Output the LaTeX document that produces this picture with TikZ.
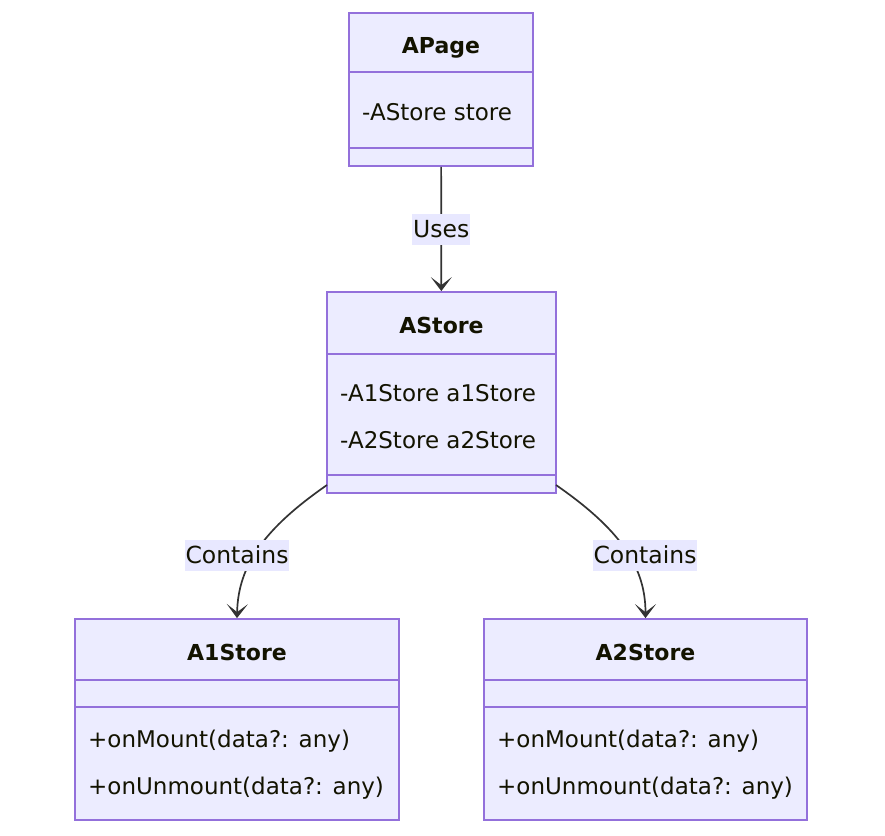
\documentclass[tikz,border=0pt]{standalone}
\usepackage{fontspec}
\setmainfont{DejaVu Sans}
\usetikzlibrary{arrows.meta}
\definecolor{boxfill}{HTML}{ECECFF}
\definecolor{boxline}{HTML}{9370DB}
\definecolor{edgeline}{HTML}{333333}
\definecolor{txt}{HTML}{131300}
\definecolor{labelfill}{HTML}{E8E8FF}
\tikzset{
  classbox/.style={draw=boxline, fill=boxfill, line width=1.8pt, inner sep=0pt},
  sepline/.style={draw=boxline, line width=1.8pt},
  head/.style={text=txt, anchor=base, inner sep=0pt, font=\fontsize{22}{26}\selectfont\bfseries},
  member/.style={text=txt, anchor=base west, inner sep=0pt, font=\fontsize{23}{27}\selectfont},
  edgelabel/.style={fill=labelfill, text=txt, inner xsep=1pt, inner ysep=0pt, minimum height=31pt, font=\fontsize{23.5}{27}\selectfont},
  rel/.style={draw=edgeline, line width=1.7pt, -{Stealth[length=14pt,width=21pt,inset=8pt]}}
}
\begin{document}
\begin{tikzpicture}[x=1pt,y=-1pt]
      \useasboundingbox (0,0) rectangle (885,835);
      \path
        (441,89.5) node[classbox, minimum width=184pt, minimum height=153pt] (apage){}
        (441.5,392.5) node[classbox, minimum width=229pt, minimum height=201pt] (astore){}
        (237,719.5) node[classbox, minimum width=324pt, minimum height=201pt] (a1store){}
        (645.5,719.5) node[classbox, minimum width=323pt, minimum height=201pt] (a2store){};
      % compartments
      \draw[sepline] (349,72) -- (533,72) (349,148) -- (533,148);
      \draw[sepline] (327,354) -- (556,354) (327,475) -- (556,475);
      \draw[sepline] (75,680) -- (399,680) (75,707) -- (399,707);
      \draw[sepline] (484,680) -- (807,680) (484,707) -- (807,707);
      \path
        (441,53) node[head] (apage-name){APage}
        (362,120) node[member] (apage-attr){-AStore store}
        (441.5,333) node[head] (astore-name){AStore}
        (340,401) node[member] (astore-attr1){-A1Store a1Store}
        (340,448) node[member] (astore-attr2){-A2Store a2Store}
        (237,660) node[head] (a1store-name){A1Store}
        (88,747) node[member] (a1store-op1){+onMount(data?: any)}
        (88,794) node[member] (a1store-op2){+onUnmount(data?: any)}
        (645.5,660) node[head] (a2store-name){A2Store}
        (497,747) node[member] (a2store-op1){+onMount(data?: any)}
        (497,794) node[member] (a2store-op2){+onUnmount(data?: any)};
      \coordinate (astore-left) at (327,485);
      \coordinate (astore-right) at (556,485);
      \begin{scope}[rel]
        \draw (apage) -- node[edgelabel] (uses){Uses} (astore);
        \draw (astore-left) .. controls (265,528) and (238,565) .. (a1store.north);
        \draw (astore-right) .. controls (618,528) and (645.5,565) .. (a2store.north);
      \end{scope}
      \node[edgelabel] (contains1) at (237,555) {Contains};
      \node[edgelabel] (contains2) at (645,555) {Contains};
    \end{tikzpicture}
\end{document}
